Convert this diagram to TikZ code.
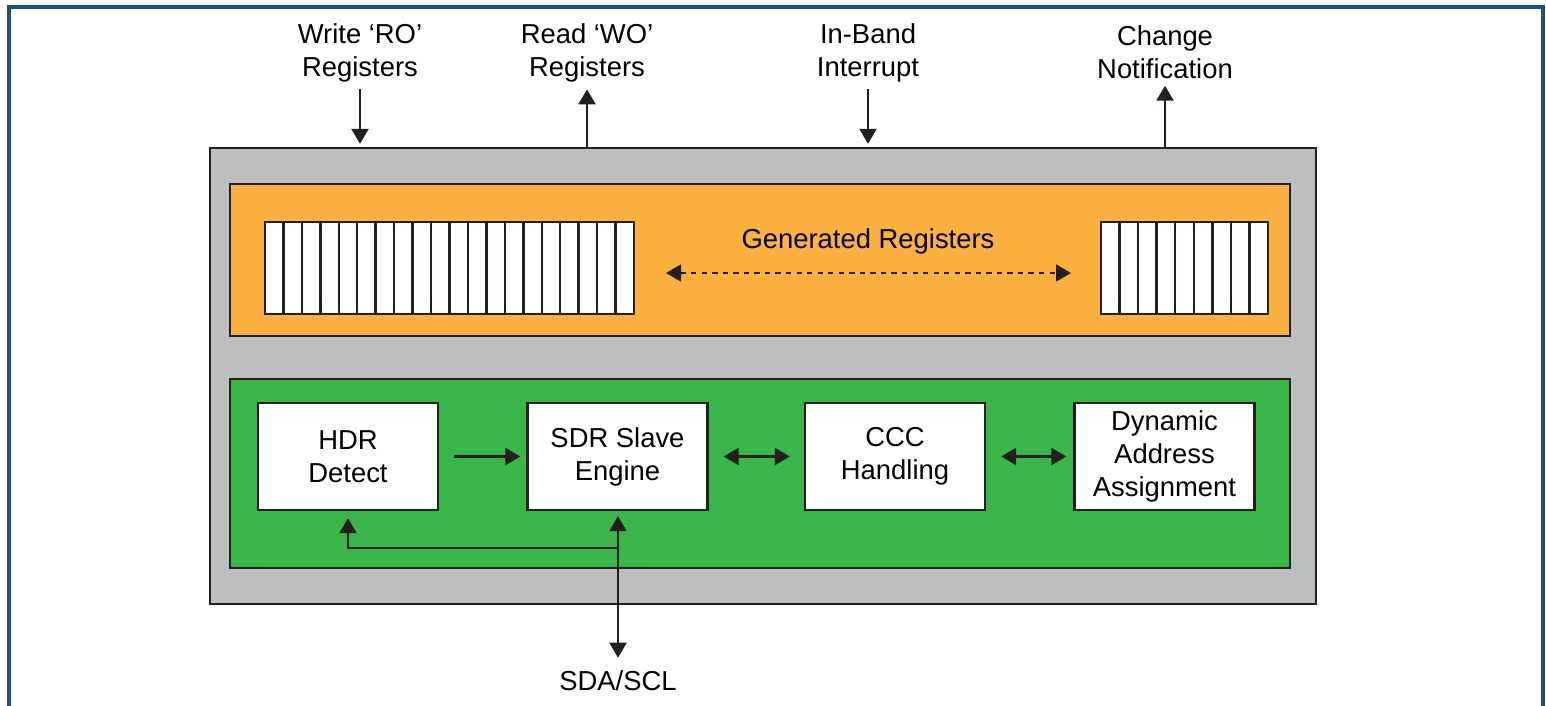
\documentclass[tikz,border=0pt]{standalone}
\usepackage{fontspec}
\setmainfont{Liberation Sans}
\usetikzlibrary{arrows.meta}
\definecolor{slavegray}{HTML}{BCBEC0}
\definecolor{regorange}{HTML}{FBB040}
\definecolor{ctrlgreen}{HTML}{39B54A}
\definecolor{frameblue}{HTML}{1F4E85}
\definecolor{inkdark}{HTML}{231F20}

\begin{document}
\begin{tikzpicture}[x=0.02cm,y=-0.02cm,
    font=\fontsize{15.6}{18.8}\selectfont,
    box/.style={draw=inkdark,line width=1.4pt,inner sep=0pt},
    block/.style={box,fill=white,minimum width=3.6cm,minimum height=2.14cm,align=center},
    lab/.style={align=center,inner sep=1pt},
    link/.style={draw=inkdark,line width=1.3pt,-{Triangle[length=3mm,width=3.4mm]}},
    dlink/.style={link,{Triangle[length=3mm,width=3.4mm]}-{Triangle[length=3mm,width=3.4mm]}}]
            \useasboundingbox (0,0) rectangle (1546,706);
            \clip (0,0) rectangle (1546,706);
            \draw[frameblue,line width=1.8pt] (9,7) rectangle (1543,760);

            \node[box,fill=slavegray,minimum width=22.12cm,minimum height=9.12cm] (slave) at (763,376) {};
            \node[box,fill=regorange,minimum width=21.2cm,minimum height=3.04cm] (regs) at (760,260) {};
            \node[box,fill=ctrlgreen,minimum width=21.2cm,minimum height=3.78cm] (ctrl) at (760,473.5) {};

            \foreach \i in {0,...,19}
                \draw[box,fill=white] ({265+\i*18.45},222) rectangle ++(18.45,92);
            \foreach \i in {0,...,8}
                \draw[box,fill=white] ({1101+\i*18.55},222) rectangle ++(18.55,92);
            \node (gen) at (868,241) {Generated Registers};
            \coordinate (dl) at (666,273);
            \coordinate (dr) at (1071,273);
            \draw[dlink,line width=0.9pt,dash pattern=on 3pt off 3pt] (dl) -- (dr);

            \node[block] (hdr) at (348,456.5) {HDR\\Detect};
            \node[block] (sdr) at (617.5,456.5) {SDR Slave\\Engine};
            \node[block] (ccc) at (895,456.5) {CCC\\Handling};
            \node[block] (daa) at (1164.5,456.5) {Dynamic\\Address\\Assignment};
            \draw[link,shorten <=0.3cm,shorten >=0.12cm] (hdr) -- (sdr);
            \draw[dlink,shorten <=0.3cm,shorten >=0.28cm] (sdr) -- (ccc);
            \draw[dlink,shorten <=0.3cm,shorten >=0.14cm] (ccc) -- (daa);

            \node (sda) at (618,681) {SDA/SCL};
            \coordinate (tap) at (618,548);
            \draw[dlink,shorten <=0.14cm,shorten >=0.1cm] (sda.north) -- (sda.north |- sdr.south);
            \draw[link,shorten >=0.14cm] (tap) -| (hdr.south);

            \node[lab] (wro) at (360,53) {Write ‘RO’\\Registers};
            \node[lab] (rwo) at (587,53) {Read ‘WO’\\Registers};
            \node[lab] (ibi) at (868,53) {In-Band\\Interrupt};
            \node[lab] (chg) at (1165,52) {Change\\Notification};
            \draw[link,shorten <=0.1cm,shorten >=0.06cm] (wro.south) -- (wro.south |- slave.north);
            \draw[link,shorten >=0.1cm] (rwo.south |- slave.north) -- (rwo.south);
            \draw[link,shorten <=0.1cm,shorten >=0.06cm] (ibi.south) -- (ibi.south |- slave.north);
            \draw[link,shorten >=0.1cm] (chg.south |- slave.north) -- (chg.south);
        \end{tikzpicture}
\end{document}
